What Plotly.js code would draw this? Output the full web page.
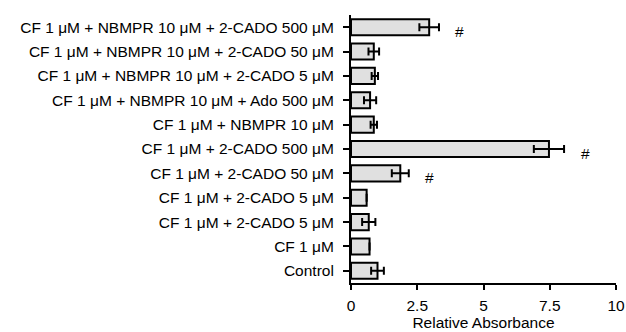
<!DOCTYPE html>
<html>
<head>
<meta charset="utf-8">
<script src="https://cdn.plot.ly/plotly-3.0.1.min.js"></script>
<style>html,body{margin:0;padding:0;background:#fff;}#chart{width:626px;height:332px;}</style>
</head>
<body>
<div id="chart"></div>
<script>
// Categories from bottom to top
const categories = [
  "Control",
  "CF 1 μM",
  "CF 1 μM + 2-CADO 5 μM",
  "CF 1 μM + 2-CADO 5 μM",
  "CF 1 μM + 2-CADO 50 μM",
  "CF 1 μM + 2-CADO 500 μM",
  "CF 1 μM + NBMPR 10 μM",
  "CF 1 μM + NBMPR 10 μM + Ado 500 μM",
  "CF 1 μM + NBMPR 10 μM + 2-CADO 5 μM",
  "CF 1 μM + NBMPR 10 μM + 2-CADO 50 μM",
  "CF 1 μM + NBMPR 10 μM + 2-CADO 500 μM"
];
const values = [1.0, 0.70, 0.67, 0.59, 1.86, 7.47, 0.86, 0.72, 0.90, 0.86, 2.95];
const errors = [0.24, 0, 0.25, 0, 0.32, 0.57, 0.12, 0.23, 0.12, 0.20, 0.37];
const significant = [false, false, false, false, true, true, false, false, false, false, true];
const xTicks = [0, 2.5, 5, 7.5, 10];
const xTickLabels = ["0", "2.5", "5", "7.5", "10"];

const positions = categories.map((_, i) => i);

const trace = {
  type: "bar",
  orientation: "h",
  x: values,
  y: positions,
  width: 0.66,
  marker: {color: "#e0e0e0", line: {color: "#000", width: 2}},
  error_x: {type: "data", array: errors, visible: true, color: "#000", thickness: 2, width: 4},
  hoverinfo: "none"
};

const font = {family: "Liberation Sans, Arial, sans-serif", size: 15.5, color: "#000"};

const annotations = [];
positions.forEach((p, i) => {
  if (significant[i]) {
    annotations.push({
      x: values[i] + errors[i], y: p, xref: "x", yref: "y",
      text: "#", showarrow: false, xanchor: "center", yanchor: "middle",
      xshift: 21, yshift: -4,
      font: font
    });
  }
});

const layout = {
  width: 626, height: 332,
  margin: {l: 351, r: 10, t: 15, b: 49, pad: 0},
  paper_bgcolor: "#fff", plot_bgcolor: "#fff",
  showlegend: false,
  font: font,
  xaxis: {
    range: [0, 10], tickvals: xTicks, ticktext: xTickLabels,
    ticks: "outside", ticklen: 5, tickwidth: 2, tickcolor: "#000",
    showline: true, linecolor: "#000", linewidth: 2,
    showgrid: false, zeroline: false,
    tickfont: font, ticklabelstandoff: 2,
    title: {text: "Relative Absorbance", font: font, standoff: 5}
  },
  yaxis: {
    range: [-0.5, 10.5], tickvals: positions, ticktext: categories,
    ticks: "outside", ticklen: 6, tickwidth: 2, tickcolor: "#000",
    showline: true, linecolor: "#000", linewidth: 2,
    showgrid: false, zeroline: false,
    tickfont: font, ticklabelstandoff: 6
  },
  annotations: annotations
};

Plotly.newPlot("chart", [trace], layout, {displayModeBar: false, staticPlot: true});
</script>
</body>
</html>
